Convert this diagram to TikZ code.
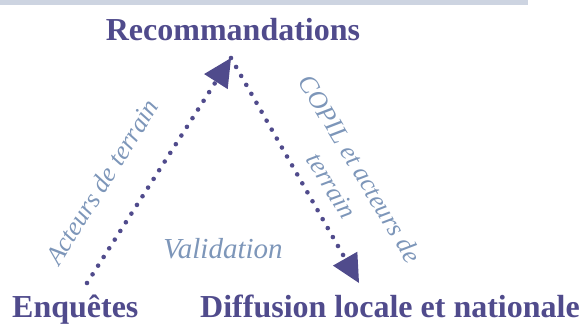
\documentclass[tikz,border=0pt]{standalone}
\usepackage{fontspec}
\setmainfont{Liberation Serif}
\usetikzlibrary{arrows.meta}
\definecolor{deep}{HTML}{504B8C}
\definecolor{soft}{HTML}{7D96B9}
\definecolor{barc}{HTML}{CDD4E1}
\tikzset{
  title/.style={text=deep, font=\bfseries\fontsize{32}{38}\selectfont, inner sep=0pt},
  lab/.style={text=soft, font=\itshape\fontsize{26}{33}\selectfont, inner sep=0pt},
  dotline/.style={draw=deep, line width=4.6pt, line cap=round, dash pattern=on 0pt off 10.3pt,
    -{Triangle[length=28pt,width=28pt,line width=0pt,fill=deep]}}
}
\begin{document}
\begin{tikzpicture}[x=1pt,y=1pt]
\useasboundingbox (0,0) rectangle (582,325);
\fill[barc] (0,320) rectangle (528,325);
\node[title, anchor=base] (rec) at (233,285) {Recommandations};
\node[title, anchor=base west] (enq) at (12,8) {Enquêtes};
\node[title, anchor=base west] (diff) at (200,8) {Diffusion locale et nationale};
\coordinate (enqpt) at (87,42);
\coordinate (apex) at (231,267);
\coordinate (diffpt) at (359,42);
\draw[dotline] (enqpt) -- (apex);
\draw[dotline] (apex) -- (diffpt);
\node[lab, font=\itshape\fontsize{29}{33}\selectfont, anchor=base] (val) at (223,67) {Validation};
\node[lab, rotate=58] (act) at (102,143) {Acteurs de terrain};
\node[lab, rotate=-59, align=center] (copil) at (346,148) {COPIL et acteurs de\\terrain};
\end{tikzpicture}
\end{document}
